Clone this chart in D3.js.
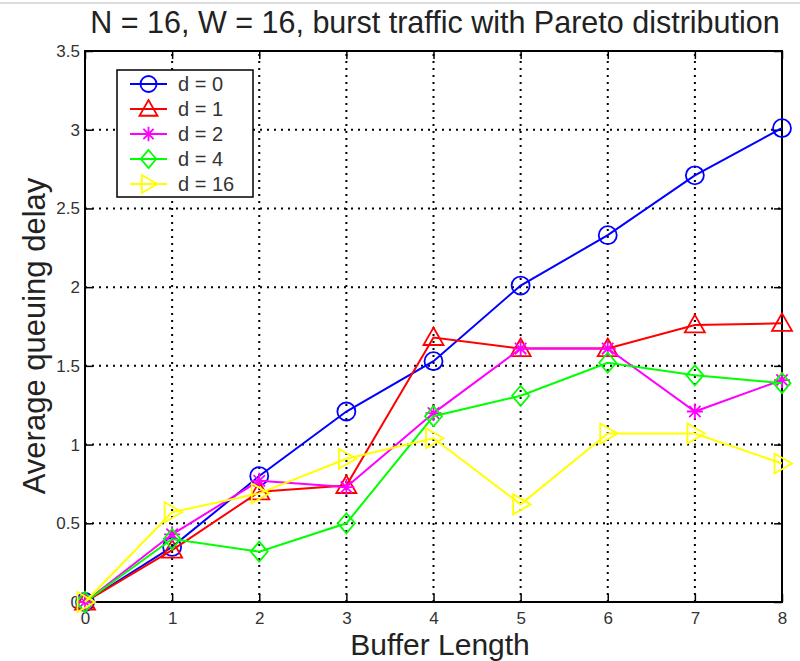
<!DOCTYPE html>
<html>
<head>
<meta charset="utf-8">
<script src="https://cdn.jsdelivr.net/npm/d3@7"></script>
<style>
  body { margin: 0; background: #fff; }
  text { font-family: "Liberation Sans", Arial, sans-serif; }
</style>
</head>
<body>
<svg id="chart" width="800" height="661"></svg>
<script>
// data
var bufferLength = [0, 1, 2, 3, 4, 5, 6, 7, 8];
var d0  = [0, 0.35, 0.80, 1.21, 1.53, 2.01, 2.33, 2.71, 3.01];
var d1  = [0, 0.33, 0.70, 0.74, 1.68, 1.61, 1.61, 1.76, 1.77];
var d2  = [0, 0.43, 0.77, 0.73, 1.20, 1.61, 1.61, 1.21, 1.41];
var d4  = [0, 0.40, 0.32, 0.50, 1.18, 1.31, 1.52, 1.44, 1.39];
var d16 = [0, 0.57, 0.69, 0.91, 1.04, 0.62, 1.07, 1.07, 0.88];
var seriesNames = ["d = 0", "d = 1", "d = 2", "d = 4", "d = 16"];
var xTicks = [0, 1, 2, 3, 4, 5, 6, 7, 8];
var yTicks = [0, 0.5, 1, 1.5, 2, 2.5, 3, 3.5];

var series = [
  {name: seriesNames[0], values: d0,  color: "#0000ff", marker: "circle"},
  {name: seriesNames[1], values: d1,  color: "#ff0000", marker: "triUp"},
  {name: seriesNames[2], values: d2,  color: "#ff00ff", marker: "star"},
  {name: seriesNames[3], values: d4,  color: "#00ff00", marker: "diamond"},
  {name: seriesNames[4], values: d16, color: "#ffff00", marker: "triRight"}
];

var svg = d3.select("#chart");
// plot box (window.top is reserved, so use own names)
var pLeft = 85, pRight = 782, pTop = 51, pBottom = 602;

var x = d3.scaleLinear().domain([0, 8]).range([pLeft, pRight]);
var y = d3.scaleLinear().domain([0, 3.5]).range([pBottom, pTop]);

// faint border line at the very top of the screenshot
svg.append("line").attr("x1", 0).attr("x2", 800).attr("y1", 3).attr("y2", 3)
  .attr("stroke", "#dcdcdc").attr("stroke-width", 2);

// dotted grid
var grid = svg.append("g").attr("stroke", "#000").attr("stroke-width", 2)
  .attr("stroke-dasharray", "2,5");
grid.selectAll(".gx").data(xTicks.slice(1, -1)).enter().append("line")
  .attr("x1", function(d){ return x(d); }).attr("x2", function(d){ return x(d); })
  .attr("y1", pBottom).attr("y2", pTop);
grid.selectAll(".gy").data(yTicks.slice(1, -1)).enter().append("line")
  .attr("y1", function(d){ return y(d); }).attr("y2", function(d){ return y(d); })
  .attr("x1", pLeft).attr("x2", pRight);

// marker shapes
function drawMarker(g, type, color, s) {
  g = g.append("g").attr("fill", "none").attr("stroke", color).attr("stroke-width", 1.8);
  if (type == "circle") {
    g.append("circle").attr("r", s - 1);
  } else if (type == "triUp") {
    g.append("path").attr("d", "M0," + (-s) + "L" + s + "," + (s*0.75) + "L" + (-s) + "," + (s*0.75) + "Z");
  } else if (type == "triRight") {
    g.append("path").attr("d", "M" + s + ",0L" + (-s*0.75) + "," + (-s) + "L" + (-s*0.75) + "," + s + "Z");
  } else if (type == "diamond") {
    g.append("path").attr("d", "M0," + (-s) + "L" + (s*0.85) + ",0L0," + s + "L" + (-s*0.85) + ",0Z");
  } else if (type == "star") {
    var a = s * 0.8, b = s * 0.57;
    g.append("path").attr("d", "M0," + (-a) + "V" + a + "M" + (-a) + ",0H" + a +
      "M" + (-b) + "," + (-b) + "L" + b + "," + b + "M" + (-b) + "," + b + "L" + b + "," + (-b));
  }
}

// tick labels first so the markers at the origin sit on top of them
var fmt = function(d){ return d; };
function styleAxis(g) {
  g.attr("font-size", null).attr("font-family", null);
  g.selectAll("path").remove();
  g.selectAll("line").attr("stroke", "#000").attr("stroke-width", 1.5);
  g.selectAll("text").style("font-size", "17px").attr("fill", "#333");
}
svg.append("g").attr("transform", "translate(0," + pBottom + ")")
  .call(d3.axisBottom(x).tickValues(xTicks).tickFormat(fmt).tickSize(-8).tickPadding(10))
  .call(styleAxis);
svg.append("g").attr("transform", "translate(" + pLeft + ",0)")
  .call(d3.axisLeft(y).tickValues(yTicks).tickFormat(fmt).tickSize(-8).tickPadding(5))
  .call(styleAxis);
svg.append("g").attr("transform", "translate(0," + pTop + ")")
  .call(d3.axisTop(x).tickValues(xTicks).tickFormat("").tickSize(-8))
  .call(styleAxis);
svg.append("g").attr("transform", "translate(" + pRight + ",0)")
  .call(d3.axisRight(y).tickValues(yTicks).tickFormat("").tickSize(-8))
  .call(styleAxis);

svg.append("rect").attr("x", pLeft).attr("y", pTop)
  .attr("width", pRight - pLeft).attr("height", pBottom - pTop)
  .attr("fill", "none").attr("stroke", "#000").attr("stroke-width", 2);

var line = d3.line()
  .x(function(d, i){ return x(bufferLength[i]); })
  .y(function(d){ return y(d); });

series.forEach(function(s) {
  var g = svg.append("g");
  g.append("path").datum(s.values).attr("d", line)
    .attr("fill", "none").attr("stroke", s.color).attr("stroke-width", 2);
  s.values.forEach(function(v, i) {
    var m = g.append("g").attr("transform", "translate(" + x(bufferLength[i]) + "," + y(v) + ")");
    drawMarker(m, s.marker, s.color, 10);
  });
});

// titles
svg.append("text").attr("x", 435).attr("y", 33).attr("text-anchor", "middle")
  .attr("font-size", 30.5).attr("fill", "#222")
  .text("N = 16, W = 16, burst traffic with Pareto distribution");
svg.append("text").attr("x", 440).attr("y", 655).attr("text-anchor", "middle")
  .attr("font-size", 30).attr("fill", "#222").text("Buffer Length");
svg.append("text").attr("transform", "translate(45,336) rotate(-90)")
  .attr("text-anchor", "middle").attr("font-size", 31).attr("fill", "#222")
  .text("Average queuing delay");

// legend
var legend = svg.append("g");
legend.append("rect").attr("x", 117).attr("y", 70).attr("width", 136).attr("height", 127)
  .attr("fill", "#fff").attr("stroke", "#000").attr("stroke-width", 1.5);
series.forEach(function(s, i) {
  var ly = 84 + i * 25;
  legend.append("line").attr("x1", 130).attr("x2", 167).attr("y1", ly).attr("y2", ly)
    .attr("stroke", s.color).attr("stroke-width", 2);
  var m = legend.append("g").attr("transform", "translate(148.5," + ly + ")");
  drawMarker(m, s.marker, s.color, 9);
  legend.append("text").attr("x", 178).attr("y", ly + 7).attr("font-size", 20)
    .attr("fill", "#333").text(s.name);
});
</script>
</body>
</html>
